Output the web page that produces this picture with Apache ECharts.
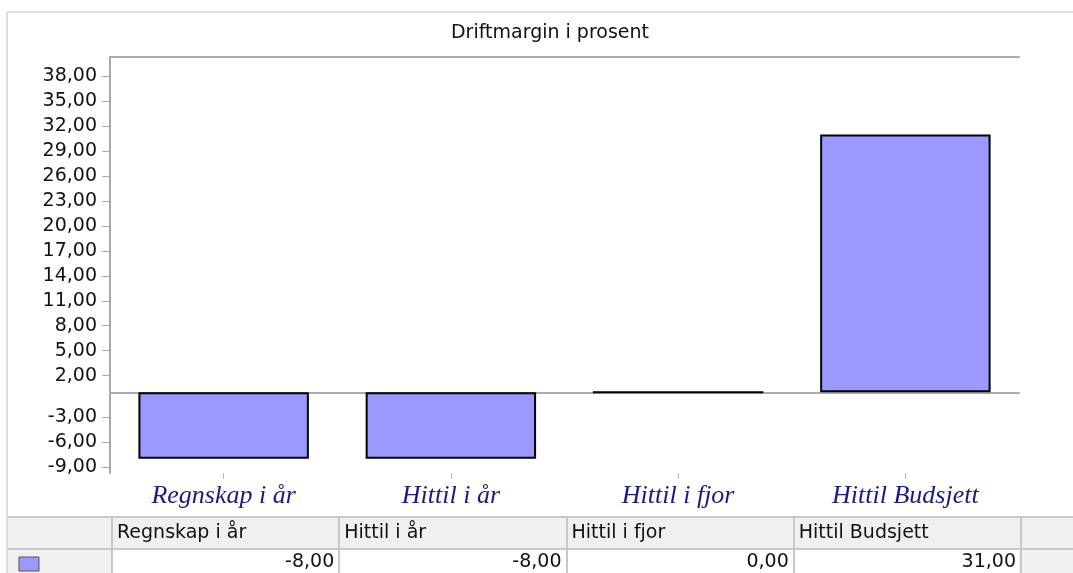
<!DOCTYPE html>
<html>
<head>
<meta charset="utf-8">
<style>
  html, body { margin: 0; padding: 0; background: #fff; }
  #main { width: 1073px; height: 573px; }
</style>
<script src="https://cdn.jsdelivr.net/npm/echarts@6/dist/echarts.min.js"></script>
</head>
<body>
<div id="main"></div>
<script>
// data
const categories = ['Regnskap i år', 'Hittil i år', 'Hittil i fjor', 'Hittil Budsjett'];
const values = [-8, -8, 0, 31];
const yTicks = [-9, -6, -3, 2, 5, 8, 11, 14, 17, 20, 23, 26, 29, 32, 35, 38];

// plot box in px
const gLeft = 110, gRight = 1019, gTop = 57, gBottom = 473;
const band = (gRight - gLeft) / categories.length;

const fmt = v => v.toFixed(2).replace('.', ',');
const sans = 'DejaVu Sans';

const chart = echarts.init(document.getElementById('main'));

// table under the chart (columns follow category bands)
function tableGraphics() {
  const els = [];
  const rowTop = 517, rowMid = 549, rowBot = 580;
  // gray cells
  els.push({ type: 'rect', shape: { x: 7, y: rowTop, width: 1073 - 7, height: rowMid - rowTop },
    style: { fill: '#f0f0f0' } });
  els.push({ type: 'rect', shape: { x: 7, y: rowMid, width: gLeft + 2 - 7, height: rowBot - rowMid },
    style: { fill: '#f0f0f0' } });
  els.push({ type: 'rect', shape: { x: gRight, y: rowMid, width: 1073 - gRight, height: rowBot - rowMid },
    style: { fill: '#f0f0f0' } });
  // horizontal lines
  [rowTop, rowMid].forEach(y => {
    els.push({ type: 'line', shape: { x1: 7, y1: y, x2: 1073, y2: y },
      style: { stroke: '#c8c8c8', lineWidth: 2 } });
  });
  // vertical lines
  for (let i = 0; i <= categories.length; i++) {
    const x = Math.round(gLeft + 2 + i * band);
    els.push({ type: 'line', shape: { x1: x, y1: rowTop, x2: x, y2: rowBot },
      style: { stroke: '#c8c8c8', lineWidth: 2 } });
  }
  // texts
  categories.forEach((c, i) => {
    const x0 = gLeft + 2 + i * band;
    els.push({ type: 'text', x: x0 + 5, y: 533,
      style: { text: c, fill: '#111', font: '19px "' + sans + '"', align: 'left', verticalAlign: 'middle' } });
    els.push({ type: 'text', x: x0 + band - 5, y: 562,
      style: { text: fmt(values[i]), fill: '#111', font: '19px "' + sans + '"', align: 'right', verticalAlign: 'middle' } });
  });
  // legend swatch
  els.push({ type: 'rect', shape: { x: 19, y: 557, width: 20, height: 14 },
    style: { fill: '#9999ff', stroke: '#555', lineWidth: 1 } });
  // outer frame
  els.push({ type: 'line', shape: { x1: 7, y1: 12, x2: 1073, y2: 12 }, style: { stroke: '#dcdcdc', lineWidth: 2 } });
  els.push({ type: 'line', shape: { x1: 7, y1: 12, x2: 7, y2: 573 }, style: { stroke: '#dcdcdc', lineWidth: 2 } });
  return els;
}

const option = {
  animation: false,
  backgroundColor: '#fff',
  title: {
    text: 'Driftmargin i prosent',
    left: 545, top: 19, textAlign: 'center',
    textStyle: { fontFamily: sans, fontSize: 19, fontWeight: 'normal', color: '#111' }
  },
  grid: {
    left: gLeft, right: 1073 - gRight, top: gTop, bottom: 573 - gBottom,
    containLabel: false
  },
  xAxis: [
    {
      // zero line
      type: 'category',
      data: categories,
      position: 'bottom',
      axisLine: { show: true, onZero: true, lineStyle: { color: '#aaa', width: 2 } },
      axisTick: { show: false },
      axisLabel: { show: false }
    },
    {
      // ticks + labels at the bottom
      type: 'category',
      data: categories,
      position: 'bottom',
      axisLine: { show: false, onZero: false },
      axisTick: { show: true, alignWithLabel: true, length: 6, lineStyle: { color: '#bbb' } },
      axisLabel: {
        interval: 0, margin: 10,
        fontFamily: 'Liberation Serif', fontStyle: 'italic', fontSize: 26, color: '#1a1a80'
      }
    },
    {
      // top border
      type: 'category',
      data: categories,
      position: 'top',
      axisLine: { show: true, onZero: false, lineStyle: { color: '#aaa', width: 2 } },
      axisTick: { show: false },
      axisLabel: { show: false }
    }
  ],
  yAxis: {
    type: 'value',
    min: -9.7,
    max: 40.3,
    splitLine: { show: false },
    axisLine: { show: true, lineStyle: { color: '#aaa', width: 2 } },
    axisTick: { show: true, length: 8, customValues: yTicks, lineStyle: { color: '#aaa' } },
    axisLabel: {
      customValues: yTicks, margin: 13,
      formatter: v => fmt(v),
      fontFamily: sans, fontSize: 19, color: '#111'
    }
  },
  series: [
    {
      type: 'bar',
      xAxisIndex: 0,
      data: values,
      barCategoryGap: '25%',
      itemStyle: { color: '#9999ff', borderColor: '#000', borderWidth: 2 }
    }
  ],
  graphic: tableGraphics()
};

chart.setOption(option);
</script>
</body>
</html>
